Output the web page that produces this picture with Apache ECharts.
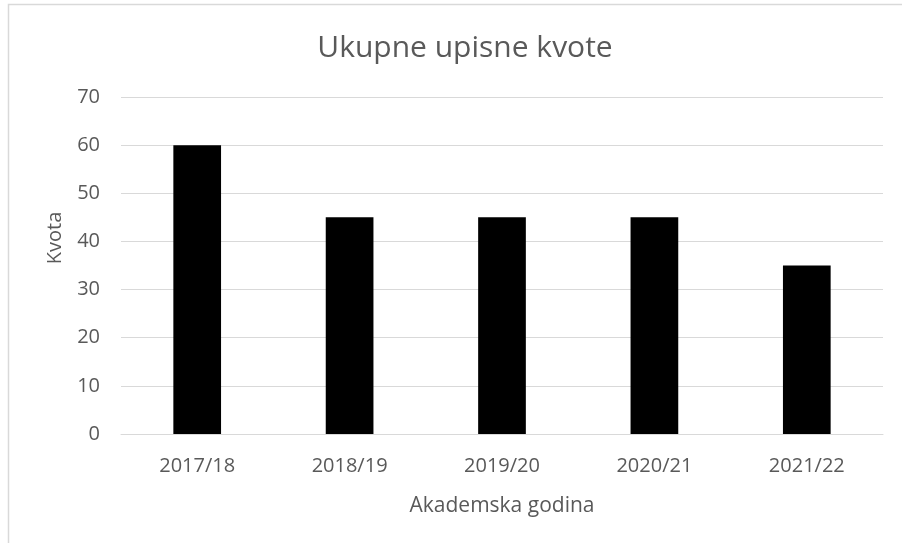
<!DOCTYPE html>
<html><head><meta charset="utf-8">
<script src="https://cdn.jsdelivr.net/npm/echarts@6/dist/echarts.min.js"></script>
<style>html,body{margin:0;padding:0;background:#fff}#c{width:902px;height:543px}</style>
</head><body><div id="c"></div>
<script>
const categories = ['2017/18','2018/19','2019/20','2020/21','2021/22'];
const values = [60,45,45,45,35];
const title = 'Ukupne upisne kvote';
const xName = 'Akademska godina';
const yName = 'Kvota';
const font = '"Open Sans", "Noto Sans", sans-serif';
const chart = echarts.init(document.getElementById('c'), null, {renderer:'canvas'});
chart.setOption({
  animation:false,
  backgroundColor:'#fff',
  graphic:[
    {type:'rect',shape:{x:8.5,y:4.5,width:1200,height:1200},style:{fill:'none',stroke:'#d9d9d9',lineWidth:1.5},silent:true},
    {type:'text',x:55.5,y:238,rotation:Math.PI/2,style:{text:yName,fontFamily:font,fontSize:20,fill:'#595959',align:'center',verticalAlign:'middle'},silent:true}
  ],
  title:{text:title,left:460,textAlign:'center',top:28,textStyle:{fontFamily:font,fontSize:30,fontWeight:'normal',color:'#595959'}},
  grid:{left:121,right:19,top:97,bottom:109},
  xAxis:{type:'category',data:categories,name:xName,nameLocation:'middle',nameGap:62,
    nameTextStyle:{fontFamily:font,fontSize:21,color:'#595959'},
    axisLine:{lineStyle:{color:'#d9d9d9',width:1}},axisTick:{show:false},
    axisLabel:{fontFamily:font,fontSize:20,color:'#595959',margin:22}},
  yAxis:{type:'value',min:0,max:70,interval:10,
    axisLine:{show:false},axisTick:{show:false},
    splitLine:{lineStyle:{color:'#d9d9d9',width:1}},
    axisLabel:{fontFamily:font,fontSize:20,color:'#595959',margin:21}},
  series:[{type:'bar',data:values,barWidth:'31.3%',itemStyle:{color:'#000'}}]
});
</script></body></html>
